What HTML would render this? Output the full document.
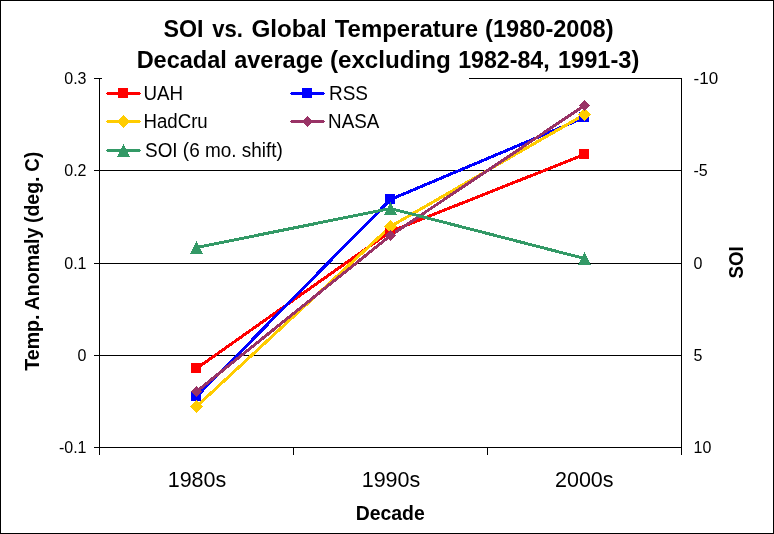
<!DOCTYPE html>
<html>
<head>
<meta charset="utf-8">
<title>SOI vs. Global Temperature</title>
<style>
html,body{margin:0;padding:0;background:#fff;}
svg{display:block;will-change:transform;}
text{font-family:"Liberation Sans",sans-serif;fill:#000;}
.b{font-weight:bold;}
</style>
</head>
<body>
<svg width="774" height="534" viewBox="0 0 774 534">
<rect x="0" y="0" width="774" height="534" fill="#fff"/>
<!-- outer border -->
<g shape-rendering="crispEdges" fill="#000">
<rect x="0" y="0" width="774" height="1"/>
<rect x="0" y="533" width="774" height="1"/>
<rect x="0" y="0" width="1" height="534"/>
<rect x="773" y="0" width="1" height="534"/>
</g>
<!-- title -->
<g class="b" font-size="24" font-weight="bold">
<text x="163.53" y="37" textLength="40.01" lengthAdjust="spacingAndGlyphs">SOI</text>
<text x="212.22" y="37" textLength="30.69" lengthAdjust="spacingAndGlyphs">vs.</text>
<text x="251.41" y="37" textLength="75.41" lengthAdjust="spacingAndGlyphs">Global</text>
<text x="334.74" y="37" textLength="143.28" lengthAdjust="spacingAndGlyphs">Temperature</text>
<text x="485.08" y="37" textLength="128.49" lengthAdjust="spacingAndGlyphs">(1980-2008)</text>
<text x="136.63" y="67.5" textLength="90.24" lengthAdjust="spacingAndGlyphs">Decadal</text>
<text x="234.21" y="67.5" textLength="88.89" lengthAdjust="spacingAndGlyphs">average</text>
<text x="329.9" y="67.5" textLength="121.02" lengthAdjust="spacingAndGlyphs">(excluding</text>
<text x="458.14" y="67.5" textLength="91.6" lengthAdjust="spacingAndGlyphs">1982-84,</text>
<text x="557.91" y="67.5" textLength="81.46" lengthAdjust="spacingAndGlyphs">1991-3)</text>
</g>
<!-- axes and gridlines -->
<g shape-rendering="crispEdges" fill="#000">
<rect x="94" y="78" width="8" height="1"/>
<rect x="469" y="78" width="213" height="1"/>
<rect x="94" y="170" width="588" height="1"/>
<rect x="94" y="263" width="588" height="1"/>
<rect x="94" y="355" width="588" height="1"/>
<rect x="94" y="447" width="588" height="1"/>
<rect x="99" y="78" width="1" height="377"/>
<rect x="681" y="78" width="1" height="377"/>
<rect x="293" y="447" width="1" height="8"/>
<rect x="487" y="447" width="1" height="8"/>
</g>
<!-- left tick labels -->
<g font-size="16" text-anchor="end">
<text x="86.5" y="84">0.3</text>
<text x="86.5" y="176">0.2</text>
<text x="86.5" y="269">0.1</text>
<text x="86.5" y="361">0</text>
<text x="86.5" y="453">-0.1</text>
</g>
<!-- right tick labels -->
<g font-size="16">
<text x="693.5" y="84" textLength="24.6" lengthAdjust="spacingAndGlyphs">-10</text>
<text x="693.5" y="176">-5</text>
<text x="693.5" y="269">0</text>
<text x="693.5" y="361">5</text>
<text x="693.5" y="453">10</text>
</g>
<!-- category labels -->
<g font-size="21.5" text-anchor="middle">
<text x="197" y="487">1980s</text>
<text x="391" y="487">1990s</text>
<text x="584.3" y="487">2000s</text>
</g>
<!-- axis titles -->
<text class="b" x="390.25" y="519.8" font-size="20" text-anchor="middle" textLength="69" lengthAdjust="spacingAndGlyphs">Decade</text>
<text class="b" font-size="20" transform="translate(39.2,370.72) rotate(-90)" textLength="56.26" lengthAdjust="spacingAndGlyphs">Temp.</text>
<text class="b" font-size="20" transform="translate(39.2,310.28) rotate(-90)" textLength="82.68" lengthAdjust="spacingAndGlyphs">Anomaly</text>
<text class="b" font-size="20" transform="translate(39.2,223.07) rotate(-90)" textLength="46.61" lengthAdjust="spacingAndGlyphs">(deg.</text>
<text class="b" font-size="20" transform="translate(39.2,171.67) rotate(-90)" textLength="19.8" lengthAdjust="spacingAndGlyphs">C)</text>
<text class="b" font-size="20" text-anchor="middle" transform="translate(743.2,262.4) rotate(-90)" textLength="32.3" lengthAdjust="spacingAndGlyphs">SOI</text>
<!-- data series: all lines first, then all markers -->
<g shape-rendering="crispEdges" fill="none" stroke-width="3" stroke-linejoin="round">
<polyline stroke="#FF0000" points="196.5,368.5 390.5,231.5 584.5,154.5"/>
<polyline stroke="#0000FF" points="196.5,396.5 390.5,199.5 584.5,117.5"/>
<polyline stroke="#FFCC00" points="196.5,406.5 390.5,226.5 584.5,114.5"/>
<polyline stroke="#993366" points="196.5,391.5 390.5,235.5 584.5,105.5"/>
<polyline stroke="#339966" points="196.5,247.5 390.5,208.5 584.5,258.5"/>
<g fill="#FF0000" stroke="none">
<rect x="191" y="363" width="10" height="10"/>
<rect x="385" y="226" width="10" height="10"/>
<rect x="579" y="149" width="10" height="10"/>
</g>
<g fill="#0000FF" stroke="none">
<rect x="191" y="391" width="10" height="10"/>
<rect x="385" y="194" width="10" height="10"/>
<rect x="579" y="112" width="10" height="10"/>
</g>
<g fill="#FFCC00" stroke="none">
<polygon points="196.5,400 203,406.5 196.5,413 190,406.5"/>
<polygon points="390.5,220 397,226.5 390.5,233 384,226.5"/>
<polygon points="584.5,108 591,114.5 584.5,121 578,114.5"/>
</g>
<g fill="#993366" stroke="none">
<polygon points="196.5,386 202,391.5 196.5,397 191,391.5"/>
<polygon points="390.5,230 396,235.5 390.5,241 385,235.5"/>
<polygon points="584.5,100 590,105.5 584.5,111 579,105.5"/>
</g>
<g fill="#339966" stroke="none">
<polygon points="196.5,241 203,254 190,254"/>
<polygon points="390.5,202 397,215 384,215"/>
<polygon points="584.5,252 591,265 578,265"/>
</g>
</g>
<!-- legend -->
<g shape-rendering="crispEdges">
<rect x="107" y="92" width="33" height="3" fill="#FF0000"/><rect x="106" y="93" width="35" height="1" fill="#FF0000"/>
<rect x="118" y="88" width="10" height="10" fill="#FF0000"/>
<rect x="291" y="92" width="33" height="3" fill="#0000FF"/><rect x="290" y="93" width="35" height="1" fill="#0000FF"/>
<rect x="302" y="88" width="10" height="10" fill="#0000FF"/>
<rect x="107" y="120" width="33" height="3" fill="#FFCC00"/><rect x="106" y="121" width="35" height="1" fill="#FFCC00"/>
<polygon points="123.5,115 128,119.5 128,123.5 123.5,128 119,123.5 119,119.5" fill="#FFCC00"/>
<rect x="291" y="120" width="33" height="3" fill="#993366"/><rect x="290" y="121" width="35" height="1" fill="#993366"/>
<polygon points="307.5,116 311,119.5 311,123.5 307.5,127 304,123.5 304,119.5" fill="#993366"/>
<rect x="107" y="149" width="33" height="3" fill="#339966"/><rect x="106" y="150" width="35" height="1" fill="#339966"/>
<polygon points="123.5,144 130,157 117,157" fill="#339966"/>
</g>
<g font-size="20" lengthAdjust="spacingAndGlyphs">
<text x="143.5" y="100" textLength="39.6" lengthAdjust="spacingAndGlyphs">UAH</text>
<text x="143.5" y="128" textLength="64.2" lengthAdjust="spacingAndGlyphs">HadCru</text>
<text x="145" y="157" textLength="137.8" lengthAdjust="spacingAndGlyphs">SOI (6 mo. shift)</text>
<text x="329" y="100" textLength="39" lengthAdjust="spacingAndGlyphs">RSS</text>
<text x="328.1" y="128" textLength="51.2" lengthAdjust="spacingAndGlyphs">NASA</text>
</g>
</svg>
</body>
</html>
